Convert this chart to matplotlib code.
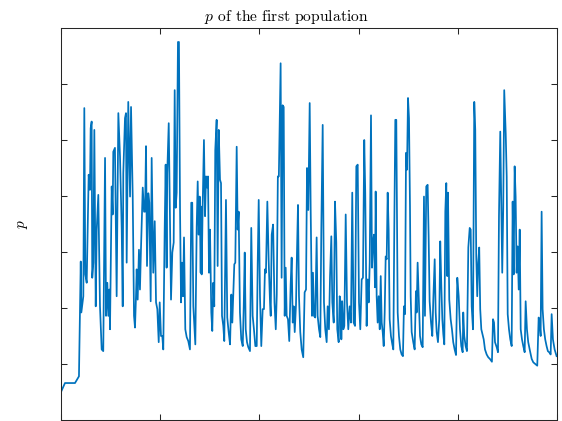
import numpy as np
import matplotlib
matplotlib.use("Agg")
import matplotlib.pyplot as plt

# Time axis and share p of the first population
t = [0, 4.0, 14.1, 18.1, 19.9, 20.5, 22.5, 23.5, 24.5, 25.9, 27.9, 29.2, 29.9, 30.9, 31.5, 32.6,
     33.6, 35.0, 36.0, 37.6, 39.3, 41.0, 42.6, 44.4, 45.4, 46.7, 47.7, 48.7, 49.4, 51.1, 52.1,
     52.7, 54.4, 56.1, 57.8, 59.5, 61.2, 62.2, 62.8, 64.5, 65.5, 66.2, 67.8, 69.6, 70.6, 72.3,
     73.6, 74.6, 75.6, 76.3, 77.3, 78.6, 79.6, 80.6, 82.4, 83.7, 84.7, 85.7, 86.7, 88.0, 89.0,
     90.4, 91.4, 93.0, 94.5, 95.8, 97.1, 98.5, 99.5, 100.8, 102.1, 103.1, 104.5, 105.5, 106.5,
     107.1, 108.6, 109.6, 110.9, 112.2, 113.6, 114.6, 115.6, 116.6, 117.9, 118.9, 120.0, 121.0,
     122.0, 123.0, 124.0, 125.3, 126.7, 128.3, 130.0, 131.3, 132.3, 133.4, 135.4, 136.8, 137.8,
     138.8, 139.8, 140.8, 141.4, 141.8, 142.8, 144.1, 145.2, 146.2, 147.2, 148.2, 149.2, 150.2,
     151.5, 152.5, 153.5, 154.5, 155.5, 156.9, 157.9, 159.0, 160.3, 161.3, 162.3, 163.6, 164.6,
     166.3, 167.6, 169.0, 170.4, 171.7, 172.7, 173.7, 174.7, 175.7, 177.1, 178.1, 179.1, 180.4,
     181.7, 183.2, 184.2, 185.2, 186.2, 187.5, 188.8, 190.5, 191.8, 193.2, 194.5, 195.9, 197.3,
     198.3, 199.3, 200.6, 201.9, 203.3, 204.6, 205.6, 206.6, 208.0, 209.4, 210.7, 211.4, 212.4,
     213.8, 215.2, 216.5, 217.5, 218.6, 219.6, 221.4, 222.4, 223.4, 224.5, 225.5, 226.5, 227.5,
     228.8, 230.1, 231.5, 232.5, 233.6, 234.6, 235.6, 236.9, 237.9, 238.9, 239.9, 241.2, 242.6,
     244.2, 245.6, 247.0, 248.0, 249.3, 250.7, 251.7, 253.0, 254.0, 255.0, 256.3, 257.7, 258.7,
     260.1, 261.4, 262.4, 263.8, 265.1, 266.4, 267.8, 268.8, 270.1, 271.2, 272.5, 273.5, 274.9,
     276.2, 277.5, 278.5, 279.9, 280.9, 281.9, 282.6, 283.5, 284.6, 285.6, 287.0, 288.3, 289.6,
     291.0, 292.3, 293.6, 295.0, 296.4, 297.7, 299.1, 300.4, 301.7, 303.1, 304.4, 305.7, 306.7,
     308.1, 309.2, 310.2, 311.2, 312.5, 313.5, 314.5, 315.5, 316.5, 317.2, 318.2, 319.2, 320.2,
     321.3, 322.3, 323.3, 324.3, 325.3, 326.3, 327.3, 328.3, 329.3, 330.3, 331.3, 332.6, 334.0,
     335.0, 336.0, 337.0, 338.0, 339.4, 340.7, 342.0, 343.4, 344.7, 345.7, 346.8, 347.8, 348.8,
     349.8, 350.8, 351.8, 352.5, 353.5, 355.1, 356.5, 357.8, 358.5, 359.5, 360.6, 361.9, 363.2,
     364.6, 365.9, 366.9, 368.2, 369.6, 370.6, 371.6, 373.0, 374.3, 375.3, 376.7, 377.7, 378.7,
     380.0, 381.3, 382.3, 383.4, 384.4, 385.4, 386.4, 387.4, 388.4, 389.4, 390.1, 391.4, 392.8,
     394.1, 395.4, 396.8, 398.2, 399.5, 400.9, 402.2, 403.5, 404.9, 405.5, 406.5, 407.9, 409.2,
     410.6, 412.0, 413.0, 414.0, 415.3, 416.6, 417.6, 418.6, 419.6, 420.6, 421.6, 422.6, 423.7,
     426.1, 427.4, 429.1, 430.7, 432.4, 434.4, 435.5, 436.5, 437.5, 439.2, 440.5, 441.5, 442.8,
     443.8, 444.8, 445.8, 446.8, 448.3, 449.3, 450.3, 451.6, 452.9, 454.3, 455.3, 456.3, 457.3,
     458.3, 459.3, 460.3, 461.4, 462.4, 463.4, 464.7, 466.0, 467.4, 468.4, 469.7, 471.0, 472.8,
     474.5, 476.1, 478.1, 480.1, 481.5, 482.5, 483.5, 484.5, 485.5, 486.8, 488.1, 489.5, 490.8,
     492.1, 493.6, 494.6, 495.9, 497.6, 499.6]

p = [0.050, 0.066, 0.066, 0.078, 0.283, 0.192, 0.221, 0.557, 0.260, 0.245, 0.438, 0.411, 0.521,
     0.533, 0.254, 0.281, 0.518, 0.203, 0.340, 0.402, 0.203, 0.126, 0.123, 0.468, 0.186, 0.245,
     0.186, 0.233, 0.162, 0.417, 0.367, 0.479, 0.486, 0.221, 0.548, 0.470, 0.340, 0.203, 0.441,
     0.539, 0.548, 0.281, 0.568, 0.399, 0.559, 0.399, 0.186, 0.165, 0.221, 0.269, 0.215, 0.304,
     0.233, 0.304, 0.415, 0.372, 0.372, 0.489, 0.275, 0.405, 0.388, 0.212, 0.468, 0.263, 0.355,
     0.210, 0.198, 0.139, 0.210, 0.150, 0.150, 0.126, 0.340, 0.456, 0.272, 0.441, 0.530, 0.399,
     0.215, 0.299, 0.317, 0.589, 0.379, 0.406, 0.675, 0.675, 0.375, 0.210, 0.281, 0.221, 0.326,
     0.162, 0.148, 0.141, 0.126, 0.388, 0.388, 0.203, 0.135, 0.346, 0.426, 0.331, 0.399, 0.263,
     0.381, 0.260, 0.381, 0.500, 0.364, 0.435, 0.415, 0.435, 0.263, 0.340, 0.192, 0.159, 0.245,
     0.203, 0.482, 0.536, 0.275, 0.518, 0.429, 0.423, 0.186, 0.168, 0.141, 0.393, 0.183, 0.157,
     0.135, 0.224, 0.174, 0.224, 0.278, 0.281, 0.488, 0.340, 0.372, 0.192, 0.144, 0.132, 0.203,
     0.299, 0.162, 0.139, 0.130, 0.123, 0.343, 0.186, 0.162, 0.132, 0.132, 0.281, 0.393, 0.221,
     0.132, 0.198, 0.198, 0.269, 0.263, 0.390, 0.281, 0.210, 0.186, 0.331, 0.349, 0.210, 0.162,
     0.224, 0.435, 0.435, 0.637, 0.254, 0.562, 0.559, 0.186, 0.272, 0.186, 0.180, 0.141, 0.242,
     0.290, 0.174, 0.203, 0.157, 0.206, 0.301, 0.384, 0.221, 0.157, 0.126, 0.112, 0.228, 0.233,
     0.450, 0.375, 0.566, 0.375, 0.186, 0.263, 0.186, 0.183, 0.326, 0.186, 0.162, 0.148, 0.340,
     0.527, 0.210, 0.162, 0.139, 0.203, 0.162, 0.257, 0.328, 0.210, 0.174, 0.390, 0.317, 0.162,
     0.139, 0.221, 0.210, 0.144, 0.212, 0.162, 0.168, 0.367, 0.210, 0.162, 0.203, 0.174, 0.406,
     0.174, 0.168, 0.453, 0.456, 0.210, 0.162, 0.251, 0.254, 0.500, 0.406, 0.168, 0.251, 0.210,
     0.281, 0.544, 0.272, 0.317, 0.331, 0.237, 0.408, 0.221, 0.174, 0.221, 0.162, 0.257, 0.174,
     0.157, 0.132, 0.192, 0.292, 0.287, 0.406, 0.340, 0.180, 0.150, 0.135, 0.126, 0.346, 0.536,
     0.536, 0.192, 0.150, 0.126, 0.117, 0.114, 0.203, 0.189, 0.477, 0.447, 0.575, 0.539, 0.381,
     0.221, 0.157, 0.139, 0.126, 0.230, 0.192, 0.281, 0.221, 0.150, 0.135, 0.130, 0.399, 0.186,
     0.417, 0.420, 0.328, 0.212, 0.174, 0.150, 0.215, 0.287, 0.192, 0.157, 0.139, 0.180, 0.319,
     0.239, 0.180, 0.153, 0.135, 0.372, 0.423, 0.257, 0.406, 0.215, 0.180, 0.162, 0.139, 0.126,
     0.116, 0.254, 0.221, 0.162, 0.132, 0.121, 0.192, 0.150, 0.132, 0.123, 0.308, 0.343, 0.340,
     0.203, 0.162, 0.568, 0.518, 0.292, 0.221, 0.281, 0.308, 0.198, 0.162, 0.144, 0.126, 0.117,
     0.112, 0.109, 0.104, 0.180, 0.174, 0.139, 0.130, 0.121, 0.364, 0.515, 0.388, 0.263, 0.379,
     0.589, 0.512, 0.435, 0.189, 0.162, 0.144, 0.132, 0.390, 0.260, 0.453, 0.399, 0.263, 0.310,
     0.233, 0.340, 0.162, 0.144, 0.132, 0.121, 0.212, 0.162, 0.139, 0.123, 0.109, 0.103, 0.100,
     0.097, 0.183, 0.174, 0.150, 0.372, 0.198, 0.162, 0.144, 0.132, 0.123, 0.121, 0.117, 0.189,
     0.144, 0.126, 0.114]

x_ticks = [0, 100, 200, 300, 400, 500]
y_ticks = [0.1, 0.2, 0.3, 0.4, 0.5, 0.6]

plt.rcParams["mathtext.fontset"] = "cm"
plt.rcParams["axes.formatter.use_mathtext"] = True

fig = plt.figure(figsize=(5.62, 4.21), dpi=100)
ax = fig.add_axes([61 / 562, 1 - 420 / 421, 496 / 562, 392 / 421])

ax.plot(t, p, color="#0072BD", linewidth=1.25)

ax.set_xlim(0, 500)
ax.set_ylim(0, 0.7)
ax.set_xticks(x_ticks)
ax.set_yticks(y_ticks)
ax.set_xticklabels([])
ax.set_yticklabels([])
ax.tick_params(direction="in", length=4.5, width=0.75, color="#262626",
               top=True, right=True)
for s in ax.spines.values():
    s.set_color("#262626")
    s.set_linewidth(0.75)

ax.set_title(r"$p$ of the first population", fontsize=11.2, family="cmr10",
             color="black", pad=5, x=0.455)
ax.set_ylabel(r"$p$", fontsize=11, labelpad=19)

fig.savefig("out.png", dpi=100)
